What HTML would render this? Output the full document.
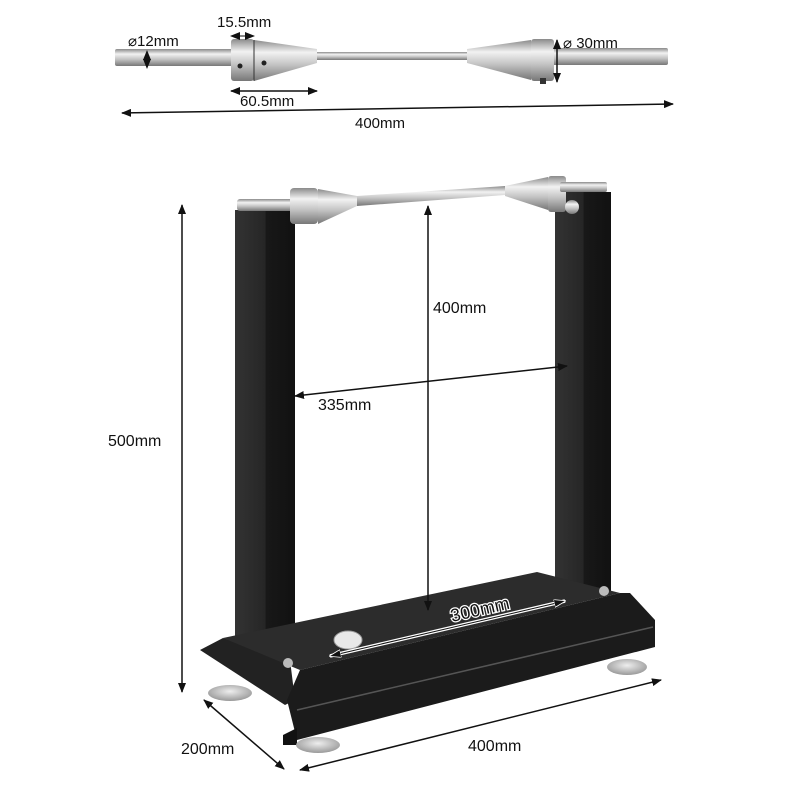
<!DOCTYPE html>
<html><head><meta charset="utf-8"><style>
html,body{margin:0;padding:0;background:#fff}
svg{display:block}
text{font-family:"Liberation Sans",Arial,sans-serif;fill:#111}
</style></head><body>
<svg width="800" height="800" viewBox="0 0 800 800" xmlns="http://www.w3.org/2000/svg">
<defs>
<linearGradient id="met" x1="0" y1="0" x2="0" y2="1">
<stop offset="0" stop-color="#8a8a8a"/><stop offset="0.3" stop-color="#f2f2f2"/><stop offset="0.6" stop-color="#c4c4c4"/><stop offset="1" stop-color="#777"/>
</linearGradient>
<linearGradient id="post" x1="0" y1="0" x2="1" y2="0">
<stop offset="0" stop-color="#333"/><stop offset="0.5" stop-color="#262626"/><stop offset="0.52" stop-color="#181818"/><stop offset="1" stop-color="#111"/>
</linearGradient>
<radialGradient id="foot" cx="0.5" cy="0.4" r="0.6"><stop offset="0" stop-color="#eee"/><stop offset="1" stop-color="#999"/></radialGradient>
<marker id="ah" markerWidth="10" markerHeight="8" refX="9" refY="4" orient="auto-start-reverse" markerUnits="userSpaceOnUse"><path d="M0,0 L10,4 L0,8 Z" fill="#111"/></marker>
<marker id="aw" markerWidth="12" markerHeight="8" refX="11" refY="4" orient="auto-start-reverse" markerUnits="userSpaceOnUse"><path d="M0,0 L12,4 L0,8 Z" fill="#111" stroke="#fff" stroke-width="0.8"/></marker>
</defs>

<!-- top axle -->
<rect x="115" y="49" width="120" height="17" rx="2" fill="url(#met)"/>
<rect x="300" y="52" width="168" height="8" fill="url(#met)"/>
<rect x="550" y="48" width="118" height="17" rx="2" fill="url(#met)"/>
<rect x="231" y="39" width="23" height="42" rx="3" fill="url(#met)"/>
<polygon points="254,40 317,49 317,63 254,81" fill="url(#met)"/>
<line x1="254" y1="40" x2="254" y2="81" stroke="#333" stroke-width="1"/>
<circle cx="240" cy="66" r="2.5" fill="#222"/><circle cx="264" cy="63" r="2.5" fill="#222"/>
<polygon points="467,49 531,40 531,80 467,63" fill="url(#met)"/>
<rect x="531" y="39" width="23" height="42" rx="3" fill="url(#met)"/>
<rect x="540" y="78" width="6" height="6" fill="#333"/>
<!-- top dims -->
<line x1="147" y1="51" x2="147" y2="68" stroke="#111" marker-start="url(#ah)" marker-end="url(#ah)"/>
<text x="128" y="46" font-size="15">⌀12mm</text>
<line x1="231" y1="36" x2="254" y2="36" stroke="#111" stroke-width="1" marker-start="url(#ah)" marker-end="url(#ah)"/>
<text x="217" y="27" font-size="15">15.5mm</text>
<line x1="231" y1="91" x2="317" y2="91" stroke="#111" stroke-width="1.5" marker-start="url(#ah)" marker-end="url(#ah)"/>
<text x="240" y="106" font-size="15">60.5mm</text>
<line x1="557" y1="40" x2="557" y2="82" stroke="#111" stroke-width="1.5" marker-start="url(#ah)" marker-end="url(#ah)"/>
<text x="563" y="48" font-size="15">⌀ 30mm</text>
<line x1="122" y1="113" x2="673" y2="104" stroke="#111" stroke-width="1.5" marker-start="url(#ah)" marker-end="url(#ah)"/>
<text x="355" y="128" font-size="15">400mm</text>

<!-- posts -->
<rect x="235" y="210" width="60" height="455" fill="url(#post)"/>
<rect x="555" y="192" width="56" height="400" fill="url(#post)"/>
<!-- base -->
<polygon points="200,650 223,638 290,660 295,700 285,705" fill="#222"/>
<polygon points="223,638 537,572 620,593 300,670" fill="#2c2c2c"/>
<polygon points="300,670 620,593 630,593 655,620 655,647 297,740 287,700" fill="#1b1b1b"/>
<line x1="297" y1="710" x2="653" y2="627" stroke="#555" stroke-width="1.5"/>
<polygon points="283,735 297,728 297,745 283,745" fill="#111"/>
<ellipse cx="230" cy="693" rx="22" ry="8" fill="url(#foot)"/>
<ellipse cx="318" cy="745" rx="22" ry="8" fill="url(#foot)"/>
<ellipse cx="627" cy="667" rx="20" ry="8" fill="url(#foot)"/>
<ellipse cx="348" cy="640" rx="14" ry="9" fill="#e8e8e8" stroke="#999"/>
<circle cx="288" cy="663" r="5" fill="#bbb"/><circle cx="604" cy="591" r="5" fill="#bbb"/>

<!-- stand axle -->
<rect x="237" y="199" width="60" height="12" rx="3" fill="url(#met)"/>
<rect x="290" y="188" width="28" height="36" rx="4" fill="url(#met)"/>
<polygon points="318,189 357,196 357,206 318,224" fill="url(#met)"/>
<polygon points="357,196 505,186 505,195 357,206" fill="url(#met)"/>
<polygon points="505,186 548,177 548,210 505,196" fill="url(#met)"/>
<rect x="548" y="176" width="18" height="36" rx="3" fill="url(#met)"/>
<rect x="560" y="182" width="47" height="10" rx="2" fill="url(#met)"/>
<circle cx="572" cy="207" r="7" fill="url(#met)"/>

<!-- dims on stand -->
<line x1="182" y1="205" x2="182" y2="692" stroke="#111" stroke-width="1.5" marker-start="url(#ah)" marker-end="url(#ah)"/>
<text x="108" y="446" font-size="16">500mm</text>
<line x1="428" y1="206" x2="428" y2="610" stroke="#111" stroke-width="1.5" marker-start="url(#ah)" marker-end="url(#ah)"/>
<text x="433" y="313" font-size="16">400mm</text>
<line x1="295" y1="396" x2="567" y2="366" stroke="#111" stroke-width="1.5" marker-start="url(#ah)" marker-end="url(#ah)"/>
<text x="318" y="410" font-size="16">335mm</text>
<line x1="330" y1="656" x2="565" y2="601" stroke="#fff" stroke-width="3.5"/>
<line x1="330" y1="656" x2="565" y2="601" stroke="#111" stroke-width="1" marker-start="url(#aw)" marker-end="url(#aw)"/>
<text x="452" y="622" font-size="18" transform="rotate(-13 452 622)" style="fill:#111;stroke:#fff;stroke-width:2.5;paint-order:stroke">300mm</text>
<line x1="204" y1="700" x2="284" y2="769" stroke="#111" stroke-width="1.5" marker-start="url(#ah)" marker-end="url(#ah)"/>
<text x="181" y="754" font-size="16">200mm</text>
<line x1="300" y1="770" x2="661" y2="680" stroke="#111" stroke-width="1.5" marker-start="url(#ah)" marker-end="url(#ah)"/>
<text x="468" y="751" font-size="16">400mm</text>
</svg>
</body></html>
